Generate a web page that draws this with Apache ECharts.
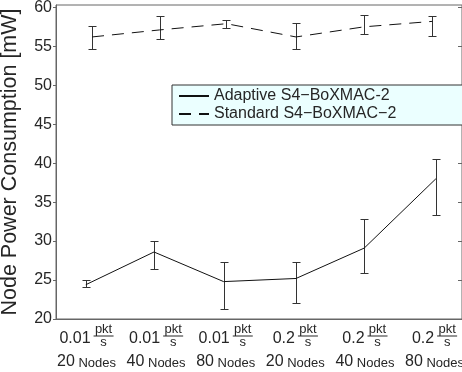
<!DOCTYPE html>
<html>
<head>
<meta charset="utf-8">
<script src="https://cdn.jsdelivr.net/npm/echarts@6/dist/echarts.min.js"></script>
<style>
  html, body { margin: 0; padding: 0; background: #fff; }
  #chart { width: 462px; height: 372px; }
</style>
</head>
<body>
<div id="chart"></div>
<script>
// data
const rates = ['0.01', '0.01', '0.01', '0.2', '0.2', '0.2'];
const nodeCounts = ['20', '40', '80', '20', '40', '80'];
const categoryPos = [1, 2, 3, 4, 5, 6];
const yTicks = [20, 25, 30, 35, 40, 45, 50, 55, 60];

const adaptiveX = [0.99, 1.97, 2.97, 4.01, 4.99, 6.02];
const adaptiveMean = [24.4, 28.6, 24.8, 25.2, 29.1, 38.0];
const adaptiveLow = [24.1, 26.4, 21.3, 22.05, 25.9, 33.3];
const adaptiveHigh = [25.0, 30.0, 27.35, 27.35, 32.8, 40.5];

const standardX = [1.08, 2.05, 3.01, 4.01, 4.99, 5.97];
const standardMean = [56.2, 57.1, 57.9, 56.2, 57.5, 58.2];
const standardLow = [54.7, 56.0, 57.35, 54.65, 56.6, 56.3];
const standardHigh = [57.6, 58.9, 58.4, 58.0, 59.0, 58.9];

const font = 'Liberation Sans, Arial, sans-serif';
const textColor = '#262626';

var myChart = echarts.init(document.getElementById('chart'));

const zip = (xs, ys) => xs.map((x, i) => [x, ys[i]]);
const zip3 = (xs, a, b) => xs.map((x, i) => [x, a[i], b[i]]);

// vertical error bar with caps
const renderErrorBar = (params, api) => {
  const x = api.value(0);
  const lo = api.coord([x, api.value(1)]);
  const hi = api.coord([x, api.value(2)]);
  const px = Math.round(lo[0]) + 0.5;
  const yl = Math.round(lo[1]) + 0.5;
  const yh = Math.round(hi[1]) + 0.5;
  const w = 4;
  const style = { stroke: '#333', lineWidth: 1 };
  return {
    type: 'group',
    children: [
      { type: 'line', shape: { x1: px, y1: yl, x2: px, y2: yh }, style },
      { type: 'line', shape: { x1: px - w, y1: yl, x2: px + w, y2: yl }, style },
      { type: 'line', shape: { x1: px - w, y1: yh, x2: px + w, y2: yh }, style }
    ]
  };
};

const labelFormatter = (v) => {
  const i = Math.round(v) - 1;
  const r = rates[i];
  return '{g|' + r + '}{sp| }{p|pkt}\n' +
    '{g2|' + r + '}{sp| }{bar| }\n' +
    '{n|' + r + '}{sp| }{s|s}\n' +
    '{big|' + nodeCounts[i] + '}{small| Nodes}';
};

const legendNames = ['Adaptive S4\u2212BoXMAC-2', 'Standard S4\u2212BoXMAC\u22122'];

const option = {
  animation: false,
  textStyle: { fontFamily: font },
  grid: {
    left: 56, right: 0, top: 5, bottom: 53,
    outerBoundsMode: 'none',
    show: true, borderColor: '#666', borderWidth: 1
  },
  legend: {
    data: legendNames.map(n => ({ name: n, itemStyle: { opacity: 0 } })),
    orient: 'vertical',
    left: 172, top: 85,
    align: 'left',
    itemWidth: 30, itemHeight: 14, itemGap: 2,
    padding: [3, 80, 3, 6],
    backgroundColor: '#ebffff',
    borderColor: '#333', borderWidth: 1, borderRadius: 0,
    textStyle: { fontSize: 16, color: textColor, fontFamily: font }
  },
  xAxis: {
    type: 'value',
    min: 0.562, max: 6.395,
    axisLine: { show: true, lineStyle: { color: '#666' } },
    axisTick: { show: false },
    splitLine: { show: false },
    axisLabel: {
      customValues: categoryPos,
      margin: 5,
      color: textColor,
      formatter: labelFormatter,
      rich: {
        g: { fontSize: 16, lineHeight: 11, color: 'transparent', verticalAlign: 'middle' },
        g2: { fontSize: 16, lineHeight: 2, color: 'transparent', verticalAlign: 'middle' },
        n: { fontSize: 16, lineHeight: 4, color: textColor, verticalAlign: 'bottom' },
        sp: { width: 3, fontSize: 4, lineHeight: 2 },
        p: { fontSize: 13, width: 20, lineHeight: 11, align: 'center', color: textColor, verticalAlign: 'middle' },
        bar: { width: 20, height: 1, lineHeight: 2, fontSize: 1, backgroundColor: textColor, verticalAlign: 'middle' },
        s: { fontSize: 13, width: 20, lineHeight: 10, align: 'center', color: textColor, verticalAlign: 'middle' },
        big: { fontSize: 16, lineHeight: 30, color: textColor, verticalAlign: 'middle' },
        small: { fontSize: 13, lineHeight: 30, color: textColor, verticalAlign: 'middle', padding: [2, 0, 0, 0] }
      }
    }
  },
  yAxis: [
    {
      type: 'value',
      min: 20, max: 60.3,
      name: 'Node Power Consumption [mW]',
      nameLocation: 'middle',
      nameGap: 35,
      nameTextStyle: { fontSize: 21.5, color: textColor, fontFamily: font },
      axisLine: { show: true, lineStyle: { color: '#666' } },
      axisTick: { show: true, length: 3, customValues: yTicks, lineStyle: { color: '#666' } },
      axisLabel: { customValues: yTicks, fontSize: 16, color: textColor, margin: 4 },
      splitLine: { show: false }
    },
    {
      type: 'value',
      position: 'right',
      min: 20, max: 60.3,
      axisLine: { show: false },
      axisTick: { show: true, inside: true, length: 4, customValues: yTicks, lineStyle: { color: '#666' } },
      axisLabel: { show: false },
      splitLine: { show: false }
    }
  ],
  series: [
    {
      name: legendNames[0],
      type: 'line',
      data: zip(adaptiveX, adaptiveMean),
      symbol: 'none',
      lineStyle: { color: '#111', width: 1, type: 'solid' },
      itemStyle: { color: '#111' }
    },
    {
      name: legendNames[1],
      type: 'line',
      data: zip(standardX, standardMean),
      symbol: 'none',
      lineStyle: { color: '#111', width: 1, type: [12, 8] },
      itemStyle: { color: '#111' }
    },
    {
      name: 'adaptiveErr',
      type: 'custom',
      renderItem: renderErrorBar,
      data: zip3(adaptiveX, adaptiveLow, adaptiveHigh),
      z: 3
    },
    {
      name: 'standardErr',
      type: 'custom',
      renderItem: renderErrorBar,
      data: zip3(standardX, standardLow, standardHigh),
      z: 3
    }
  ]
};

myChart.setOption(option);
</script>
</body>
</html>
